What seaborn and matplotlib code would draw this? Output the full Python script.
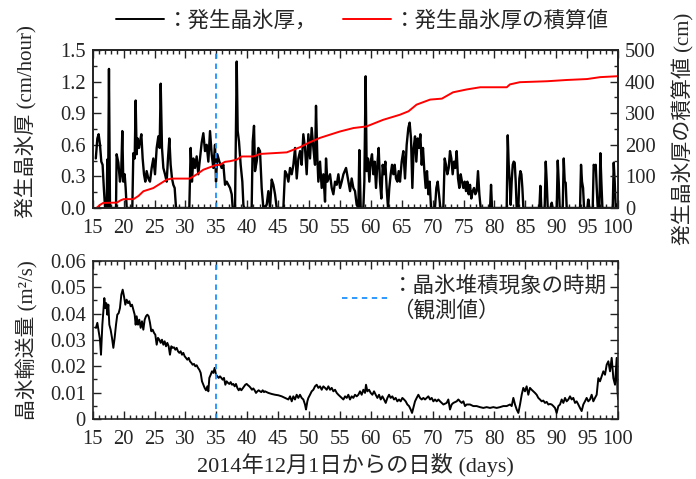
import numpy as np
import seaborn as sns
import matplotlib.pyplot as plt
from matplotlib.lines import Line2D
from matplotlib.ticker import MultipleLocator, FuncFormatter

# 発生晶氷厚 (cm/hour)
rate_days = [15.5, 15.75, 15.96, 16.18, 16.39, 16.6, 16.8, 17.0, 17.26, 17.36, 17.47, 17.63, 17.8, 18.77,
             18.87, 19.15, 19.41, 19.6, 19.79, 19.95, 20.17, 20.33, 20.5, 21.41, 21.57, 21.79, 21.95, 22.11,
             22.27, 22.49, 22.65, 22.87, 23.08, 23.3, 23.51, 23.73, 24.0, 24.27, 24.54, 24.81, 25.08, 25.35,
             25.62, 25.83, 26.0, 26.21, 26.43, 26.7, 26.97, 27.18, 27.4, 27.61, 27.83, 28.04, 28.26, 28.48,
             30.63, 30.85, 31.06, 31.28, 31.55, 31.82, 32.09, 32.36, 32.63, 32.9, 33.17, 33.44, 33.71, 33.98,
             34.25, 34.52, 34.79, 34.95, 35.16, 35.49, 35.86, 36.14, 36.41, 36.68, 36.95, 37.22, 37.49, 37.65,
             38.03, 38.14, 38.3, 38.46, 38.67, 38.94, 39.21, 39.38, 39.48, 40.72, 40.89, 41.1, 41.26, 41.53,
             41.8, 42.07, 42.34, 42.61, 43.15, 43.42, 43.69, 43.96, 44.23, 44.5, 44.77, 45.85, 46.12, 46.39,
             46.66, 46.93, 47.2, 47.47, 47.74, 48.01, 48.28, 48.55, 48.81, 49.08, 49.35, 49.62, 49.89, 50.16,
             50.43, 50.7, 50.97, 51.13, 51.35, 51.51, 51.78, 52.05, 52.32, 52.59, 52.75, 52.97, 53.4, 53.67,
             53.94, 54.21, 54.48, 54.75, 55.02, 55.29, 55.56, 55.99, 56.37, 56.64, 56.9, 57.17, 57.44, 57.71,
             57.98, 58.14, 58.36, 58.79, 58.95, 59.16, 59.33, 59.54, 59.76, 59.97, 60.19, 60.41, 60.62, 60.84,
             61.05, 61.27, 61.48, 61.7, 61.92, 62.13, 62.35, 62.56, 62.78, 62.99, 63.21, 63.43, 63.64, 63.86,
             64.07, 64.29, 64.5, 64.72, 64.99, 65.26, 65.53, 65.8, 66.07, 66.28, 66.5, 66.72, 66.93, 67.15,
             67.36, 67.58, 67.8, 68.01, 68.23, 68.44, 68.66, 68.87, 69.09, 69.31, 69.52, 69.74, 70.38, 70.6,
             70.82, 71.03, 71.25, 71.73, 71.95, 72.16, 72.38, 72.6, 72.81, 73.03, 73.24, 73.46, 73.67, 73.89,
             74.11, 74.32, 74.54, 74.75, 74.97, 75.18, 75.4, 75.62, 75.83, 76.05, 76.26, 76.48, 76.7, 76.91,
             77.13, 77.34, 77.56, 77.77, 79.29, 79.45, 79.61, 81.98, 82.15, 82.31, 82.47, 82.63, 82.79, 82.96,
             83.12, 83.28, 83.44, 83.6, 83.87, 84.03, 84.2, 84.36, 84.52, 84.68, 87.27, 87.43, 87.59, 88.13,
             88.3, 88.46, 88.62, 89.1, 89.27, 89.43, 90.08, 90.24, 90.4, 90.56, 91.05, 91.21, 91.37, 91.53,
             91.69, 93.85, 94.01, 94.17, 94.34, 94.5, 95.04, 95.2, 95.36, 95.9, 96.06, 96.23, 96.39, 96.55,
             96.71, 96.98, 97.14, 97.3, 97.47, 99.14, 99.3, 99.46, 99.62, 99.8, 100.0]
rate_vals = [0.47, 0.66, 0.70, 0.60, 0.44, 0.41, 0.19, 0, 0, 0.46, 0, 1.32, 0, 0,
             0.51, 0.43, 0.25, 0.32, 0.73, 0.25, 0.32, 0.19, 0, 0, 0.52, 0.47, 1.02, 0.51,
             0.66, 0.57, 0.63, 0.70, 0.47, 0.32, 0.25, 0.35, 0.28, 0.25, 0.38, 0.47, 0.32, 0.57,
             0.68, 0.57, 1.18, 0.57, 0.38, 0.32, 0.25, 0.47, 0.66, 0.41, 0.28, 0.22, 0.19, 0,
             0, 0.57, 0.25, 0.47, 0.38, 0.49, 0.32, 0.47, 0.62, 0.71, 0.54, 0.60, 0.44, 0.73,
             0.51, 0.38, 0.60, 0.25, 0.51, 0.44, 0.38, 0.41, 0.22, 0.25, 0.22, 0.19, 0.13, 0,
             0, 0.60, 1.39, 0.73, 0.63, 0.41, 0.25, 0.03, 0, 0, 0.63, 0.78, 0.35, 0.44,
             0.57, 0.54, 0.19, 0, 0.03, 0.16, 0, 0.27, 0.22, 0.13, 0, 0, 0.35, 0.32,
             0.25, 0.38, 0.32, 0.41, 0.57, 0.28, 0.47, 0.54, 0.41, 0.70, 0.57, 0.32, 0.70, 0.47,
             0.76, 0.57, 0.41, 0.97, 0.47, 0.25, 0.44, 0.19, 0.32, 0.06, 0.47, 0.25, 0.32, 0.19,
             0.13, 0.25, 0.22, 0.32, 0.19, 0.25, 0.32, 0.38, 0.25, 0.16, 0.28, 0.19, 0.16, 0.03,
             0, 0.55, 0, 0, 0.25, 1.25, 0.35, 0.47, 0.25, 0.44, 0.51, 0.32, 0.44, 0.19,
             0.41, 0.57, 0.25, 0.09, 0.41, 0.32, 0.44, 0.19, 0, 0.19, 0.32, 0.41, 0.32, 0.41,
             0.28, 0.25, 0.35, 0.25, 0.44, 0.54, 0.28, 0.60, 0.76, 0.81, 0.66, 0.19, 0.57, 0.68,
             0.44, 0.66, 0.57, 0.70, 0.41, 0.57, 0.35, 0.19, 0.35, 0.13, 0.25, 0, 0, 0.19,
             0.25, 0.13, 0, 0, 0.47, 0.41, 0.32, 0.38, 0.54, 0.47, 0.32, 0.44, 0.38, 0.54,
             0.28, 0.19, 0.32, 0.25, 0.19, 0.25, 0.16, 0.25, 0.13, 0.22, 0.09, 0.16, 0.19, 0.13,
             0.16, 0.35, 0.13, 0, 0, 0.22, 0, 0, 0.69, 0.41, 0.25, 0.03, 0.25, 0.41,
             0.44, 0.43, 0.25, 0, 0, 0.28, 0.35, 0.32, 0.19, 0, 0, 0.21, 0, 0,
             0.44, 0.25, 0, 0, 0.05, 0, 0, 0.45, 0.25, 0, 0, 0.47, 0.25, 0.24,
             0, 0, 0.41, 0.25, 0.19, 0, 0, 0.08, 0, 0, 0.41, 0.39, 0.41, 0.19,
             0, 0, 0.52, 0.25, 0, 0, 0.43, 0.25, 0, 0.03, 0]

# 発生晶氷厚の積算値 (cm)
cum_days = [15.6, 16.2, 16.7, 18.9, 19.5, 20.0, 21.6, 22.4, 23.2, 24.8, 27.0, 27.8, 30.7, 31.8, 32.9,
            34.8, 35.6, 36.4, 37.2, 38.3, 39.1, 41.0, 42.1, 46.4, 48.5, 49.9, 51.8, 53.4, 55.0, 57.2,
            59.3, 62.0, 64.7, 66.1, 67.4, 69.6, 71.5, 73.3, 75.5, 77.7, 82.0, 82.5, 84.1, 88.5, 91.7,
            95.0, 97.1, 100.0]
cum_vals = [0, 10, 16, 17, 24, 28, 28, 38, 53, 63, 90, 93, 93, 106, 121,
            135, 137, 146, 148, 153, 163, 163, 171, 176, 192, 206, 222, 232, 242, 253,
            258, 279, 295, 306, 327, 343, 346, 366, 375, 382, 382, 391, 398, 401, 405,
            408, 414, 417]

# 晶氷輸送量 (m2/s)
flux_days = [15.53, 15.75, 15.96, 16.18, 16.34, 16.56, 16.72, 16.88, 17.04, 17.2, 17.36, 17.53, 17.69,
             17.9, 18.12, 18.34, 18.55, 18.77, 18.98, 19.2, 19.41, 19.63, 19.85, 20.06, 20.28, 20.49,
             20.71, 20.92, 21.14, 21.36, 21.57, 21.79, 21.95, 22.11, 22.33, 22.54, 22.76, 22.97, 23.19,
             23.41, 23.62, 23.84, 24.05, 24.27, 24.48, 24.7, 24.92, 25.13, 25.35, 25.56, 25.78, 26.0,
             26.21, 26.43, 26.64, 26.86, 27.07, 27.29, 27.5, 27.72, 27.94, 28.15, 28.37, 28.58, 28.8,
             29.02, 29.23, 29.45, 29.66, 29.88, 30.09, 30.31, 30.53, 30.74, 30.96, 31.17, 31.39, 31.6,
             31.82, 32.04, 32.25, 32.47, 32.68, 32.9, 33.11, 33.33, 33.55, 33.71, 33.87, 34.09, 34.3,
             34.52, 34.73, 34.95, 35.16, 35.38, 35.6, 35.81, 36.03, 36.24, 36.46, 36.67, 36.89, 37.11,
             37.32, 37.54, 37.75, 37.97, 38.18, 38.4, 38.62, 38.83, 39.05, 39.26, 39.48, 39.69, 39.91,
             40.13, 40.34, 40.56, 40.77, 40.99, 41.2, 41.42, 41.64, 41.85, 42.07, 42.28, 42.5, 42.72,
             42.88, 43.42, 43.96, 44.5, 45.04, 45.58, 46.12, 46.66, 46.93, 47.2, 47.46, 47.73, 48.0,
             48.27, 48.54, 48.81, 49.08, 49.35, 49.51, 49.73, 49.89, 50.16, 50.43, 50.7, 50.97, 51.24,
             51.51, 51.78, 52.05, 52.32, 52.59, 52.86, 53.13, 53.4, 53.67, 53.94, 54.21, 54.48, 54.75,
             55.02, 55.29, 55.56, 55.83, 56.1, 56.36, 56.63, 56.9, 57.17, 57.44, 57.71, 57.98, 58.25,
             58.52, 58.79, 59.06, 59.22, 59.44, 59.71, 59.98, 60.25, 60.52, 60.79, 61.06, 61.33, 61.6,
             61.87, 62.14, 62.41, 62.68, 62.95, 63.21, 63.48, 63.75, 64.02, 64.29, 64.56, 64.83, 65.1,
             65.37, 65.64, 65.91, 66.18, 66.45, 66.67, 66.88, 67.15, 67.42, 67.69, 67.96, 68.23, 68.5,
             68.77, 69.04, 69.31, 69.58, 69.85, 70.12, 70.39, 70.66, 70.93, 71.2, 71.47, 71.74, 72.27,
             72.54, 72.81, 73.08, 73.35, 73.89, 74.16, 74.43, 74.7, 74.97, 75.24, 75.51, 76.05, 76.58,
             77.12, 77.66, 78.2, 78.74, 79.28, 79.82, 80.36, 80.9, 81.44, 81.98, 82.52, 82.79, 83.06,
             83.33, 83.6, 83.87, 84.14, 84.41, 84.67, 84.94, 85.21, 85.48, 85.75, 86.02, 86.29, 86.56,
             86.83, 87.1, 87.37, 87.64, 87.91, 88.18, 88.45, 88.72, 88.99, 89.26, 89.53, 89.8, 90.07,
             90.34, 90.61, 90.88, 91.15, 91.42, 91.69, 91.96, 92.23, 92.5, 92.76, 93.04, 93.3, 93.57,
             93.84, 94.11, 94.38, 94.65, 94.92, 95.19, 95.46, 95.73, 96.0, 96.27, 96.54, 96.81, 97.08,
             97.35, 97.62, 97.89, 98.16, 98.43, 98.7, 98.97, 99.24, 99.51, 99.78, 99.9, 100.0]
flux_vals = [0.0346, 0.0365, 0.0333, 0.0301, 0.0244, 0.0358, 0.0409, 0.0459, 0.0421, 0.0440, 0.0396, 0.0434, 0.0358,
             0.0339, 0.0308, 0.0270, 0.0308, 0.0358, 0.0396, 0.0402, 0.0421, 0.0472, 0.0491, 0.0466, 0.0434, 0.0453,
             0.0440, 0.0447, 0.0428, 0.0434, 0.0415, 0.0396, 0.0358, 0.0390, 0.0358, 0.0377, 0.0346, 0.0371, 0.0339,
             0.0377, 0.0390, 0.0396, 0.0390, 0.0365, 0.0333, 0.0339, 0.0327, 0.0320, 0.0282, 0.0308, 0.0301, 0.0289,
             0.0301, 0.0282, 0.0295, 0.0276, 0.0289, 0.0276, 0.0244, 0.0276, 0.0270, 0.0272, 0.0263, 0.0270, 0.0257,
             0.0251, 0.0257, 0.0244, 0.0251, 0.0238, 0.0232, 0.0225, 0.0232, 0.0219, 0.0213, 0.0206, 0.0209, 0.0200,
             0.0204, 0.0194, 0.0187, 0.0175, 0.0143, 0.0130, 0.0118, 0.0109, 0.0124, 0.0105, 0.0156, 0.0168, 0.0181,
             0.0175, 0.0194, 0.0168, 0.0162, 0.0156, 0.0162, 0.0156, 0.0149, 0.0156, 0.0130, 0.0143, 0.0137, 0.0133,
             0.0140, 0.0130, 0.0133, 0.0124, 0.0133, 0.0118, 0.0109, 0.0116, 0.0109, 0.0116, 0.0124, 0.0130, 0.0133,
             0.0128, 0.0124, 0.0118, 0.0111, 0.0116, 0.0109, 0.0099, 0.0105, 0.0109, 0.0105, 0.0102, 0.0109, 0.0102,
             0.0105, 0.0099, 0.0095, 0.0092, 0.0090, 0.0086, 0.0080, 0.0074, 0.0086, 0.0067, 0.0086, 0.0074, 0.0092,
             0.0080, 0.0092, 0.0080, 0.0074, 0.0055, 0.0036, 0.0067, 0.0080, 0.0092, 0.0105, 0.0111, 0.0124, 0.0130,
             0.0118, 0.0124, 0.0111, 0.0124, 0.0118, 0.0111, 0.0124, 0.0111, 0.0118, 0.0105, 0.0111, 0.0099, 0.0092,
             0.0086, 0.0080, 0.0074, 0.0086, 0.0080, 0.0092, 0.0074, 0.0086, 0.0080, 0.0092, 0.0086, 0.0092, 0.0105,
             0.0092, 0.0111, 0.0099, 0.0130, 0.0105, 0.0111, 0.0099, 0.0092, 0.0105, 0.0092, 0.0080, 0.0092, 0.0074,
             0.0086, 0.0074, 0.0061, 0.0080, 0.0092, 0.0080, 0.0086, 0.0074, 0.0080, 0.0067, 0.0074, 0.0067, 0.0080,
             0.0074, 0.0067, 0.0055, 0.0049, 0.0036, 0.0023, 0.0042, 0.0067, 0.0080, 0.0092, 0.0080, 0.0074, 0.0080,
             0.0074, 0.0080, 0.0086, 0.0074, 0.0080, 0.0067, 0.0074, 0.0067, 0.0074, 0.0067, 0.0061, 0.0055, 0.0061,
             0.0074, 0.0036, 0.0055, 0.0061, 0.0067, 0.0074, 0.0067, 0.0061, 0.0067, 0.0049, 0.0055, 0.0055, 0.0049,
             0.0049, 0.0045, 0.0042, 0.0045, 0.0042, 0.0045, 0.0042, 0.0045, 0.0049, 0.0049, 0.0055, 0.0049, 0.0080,
             0.0055, 0.0036, 0.0023, 0.0055, 0.0092, 0.0118, 0.0105, 0.0124, 0.0092, 0.0118, 0.0111, 0.0105, 0.0099,
             0.0092, 0.0080, 0.0074, 0.0067, 0.0070, 0.0061, 0.0065, 0.0055, 0.0057, 0.0055, 0.0049, 0.0042, 0.0023,
             0.0049, 0.0055, 0.0074, 0.0061, 0.0080, 0.0067, 0.0074, 0.0086, 0.0074, 0.0080, 0.0061, 0.0067, 0.0055,
             0.0042, 0.0030, 0.0055, 0.0067, 0.0080, 0.0067, 0.0074, 0.0092, 0.0067, 0.0080, 0.0092, 0.0155, 0.0143,
             0.0162, 0.0181, 0.0168, 0.0206, 0.0219, 0.0181, 0.0232, 0.0155, 0.0130, 0.0232, 0.0110, 0.0075]

event_day = 35
day_ticks = list(range(15, 101, 5))

sns.set_style('ticks')
plt.rcParams['font.family'] = ['Liberation Serif', 'Noto Sans CJK JP']
plt.rcParams['axes.unicode_minus'] = False

fig = plt.figure(figsize=(6.96, 4.79), dpi=100)
ax1 = fig.add_axes([0.1332, 0.5658, 0.7548, 0.3299])
ax2 = ax1.twinx()
ax3 = fig.add_axes([0.1332, 0.1253, 0.7548, 0.3299])

blue = '#1E90FF'
fs = 14.8
lab_fs = 15
leg_fs = 15.5

# top panel
sns.lineplot(x=rate_days, y=rate_vals, ax=ax1, color='black', lw=1.7, estimator=None)
sns.lineplot(x=cum_days, y=cum_vals, ax=ax2, color='red', lw=1.4, estimator=None)
ax1.axvline(event_day, color=blue, lw=1.3, dashes=(3, 2.5))
ax1.set_xlim(15, 100)
ax1.set_ylim(0, 1.5)
ax2.set_ylim(0, 500)
ax1.set_yticks(np.arange(0, 1.51, 0.3))
ax1.yaxis.set_major_formatter(FuncFormatter(lambda v, p: '%.1f' % v))
ax1.yaxis.set_minor_locator(MultipleLocator(0.15))
ax2.set_yticks(range(0, 501, 100))
ax2.yaxis.set_minor_locator(MultipleLocator(50))
ax1.set_ylabel('発生晶氷厚 (cm/hour)', fontsize=lab_fs)
ax1.yaxis.set_label_coords(-0.106, 0.55)
ax2.set_ylabel('発生晶氷厚の積算値 (cm)', fontsize=lab_fs)
ax2.yaxis.set_label_coords(1.103, 0.5)
ax1.set_xlabel('')

# bottom panel
sns.lineplot(x=flux_days, y=flux_vals, ax=ax3, color='black', lw=1.4, estimator=None)
ax3.axvline(event_day, color=blue, lw=1.3, dashes=(3, 2.5))
ax3.set_xlim(15, 100)
ax3.set_ylim(0, 0.06)
ax3.set_yticks(np.arange(0, 0.061, 0.01))
ax3.yaxis.set_major_formatter(FuncFormatter(lambda v, p: '0' if abs(v) < 1e-9 else '%.2f' % v))
ax3.yaxis.set_minor_locator(MultipleLocator(0.005))
ax3.set_ylabel('晶氷輸送量 (m²/s)', fontsize=lab_fs)
ax3.yaxis.set_label_coords(-0.106, 0.5)
ax3.set_xlabel('2014年12月1日からの日数 (days)', fontsize=16, labelpad=3)

for ax in (ax1, ax3):
    ax.set_xticks(day_ticks)
    ax.xaxis.set_minor_locator(MultipleLocator(1))

for ax in (ax1, ax2, ax3):
    ax.tick_params(which='both', direction='in', labelsize=fs, width=1, color='#222222')
    ax.tick_params(which='major', length=6)
    ax.tick_params(which='minor', length=3)
    ax.tick_params(axis='x', pad=8)
    ax.tick_params(axis='y', pad=5)
    for s in ax.spines.values():
        s.set_linewidth(1.2)
        s.set_color('#222222')
ax1.tick_params(which='both', top=True, right=False)
ax2.tick_params(which='both', top=False, bottom=False, labelbottom=False)
ax3.tick_params(which='both', top=True, right=True)

# legends
top_handles = [Line2D([], [], color='black', lw=1.4), Line2D([], [], color='red', lw=1.4)]
fig.legend(top_handles, ['：発生晶氷厚，', '：発生晶氷厚の積算値'], loc='center',
           bbox_to_anchor=(0.521, 0.955), ncol=2, frameon=False, fontsize=leg_fs,
           handlelength=2.2, handletextpad=0.15, columnspacing=1.2)
ax3.legend([Line2D([], [], color=blue, lw=1.3, dashes=(3, 2.5))], ['：晶氷堆積現象の時期\n（観測値）'],
           loc='upper right', bbox_to_anchor=(1.0, 0.97), frameon=False, fontsize=leg_fs,
           handlelength=2.2, handletextpad=0.15, borderaxespad=0.1)

plt.savefig('out.png', dpi=100)
